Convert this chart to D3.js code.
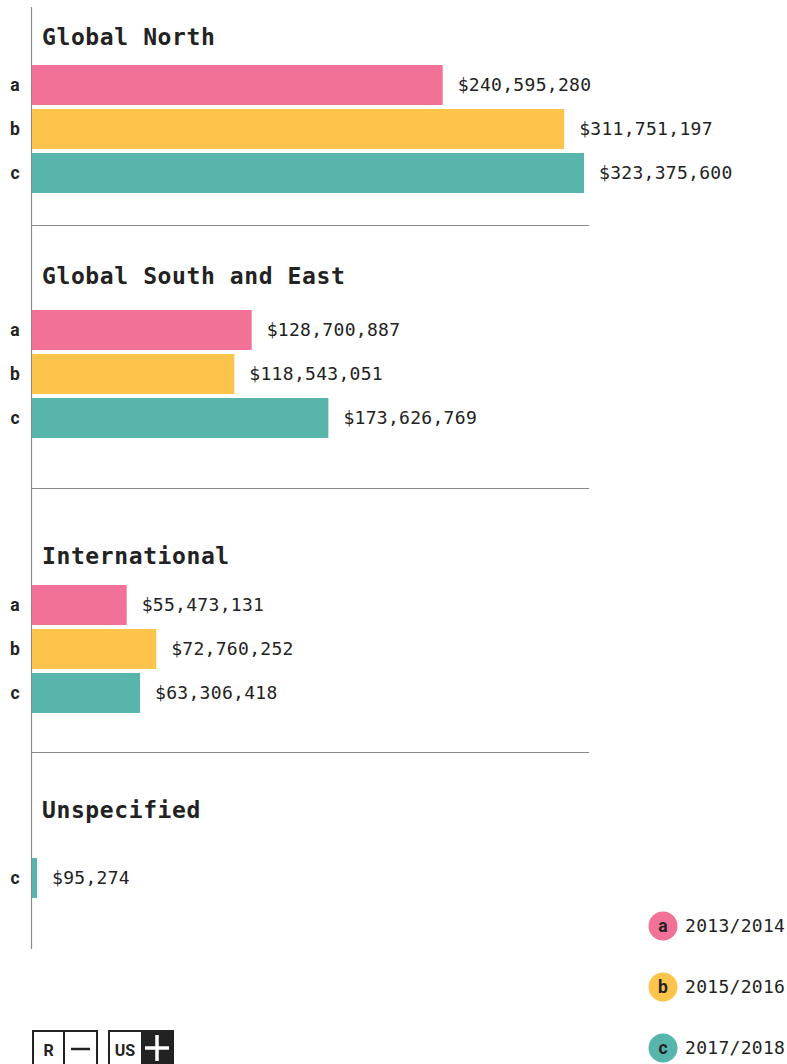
<!DOCTYPE html>
<html lang="en">
<head>
  <meta charset="UTF-8">
  <title>Funding by region</title>
  <script src="https://d3js.org/d3.v7.min.js"></script>
  <style>
    body { margin: 0; background: #fff; }
    svg { display: block; }
    .title { font-family: "DejaVu Sans Mono", monospace; font-weight: bold; font-size: 23px; fill: #222; letter-spacing: 0.6px; }
    .value, .legend-text { font-family: "DejaVu Sans Mono", monospace; font-size: 18px; fill: #222; letter-spacing: 0.3px; }
    .row-label { font-family: Roboto, "Noto Sans", sans-serif; font-weight: bold; font-size: 17.5px; fill: #222; }
  </style>
</head>
<body>
<svg width="787" height="1064"></svg>
<script>
  // données
  const regions = ["Global North", "Global South and East", "International", "Unspecified"];
  const periods = ["2013/2014", "2015/2016", "2017/2018"];
  const keys = ["a", "b", "c"];
  const valuesA = [240595280, 128700887, 55473131, null];
  const valuesB = [311751197, 118543051, 72760252, null];
  const valuesC = [323375600, 173626769, 63306418, 95274];
  const colors = ["#f27196", "#fdc44c", "#57b5ab"];

  // mise en page (pas des données)
  const titleY = [45, 284, 564, 818];
  const rowsY = [65, 310, 585, 770];
  const ruleY = [225, 488, 752];
  const x0 = 32;

  const svg = d3.select("svg");
  const series = [valuesA, valuesB, valuesC];

  const x = d3.scaleLinear()
      .domain([0, d3.max(series.flat())])
      .range([0, 552]);

  const y = d3.scaleBand()
      .domain(keys)
      .range([0, 128])
      .paddingInner(4 / 44);

  const color = d3.scaleOrdinal().domain(keys).range(colors);
  const fmt = d3.format("$,");

  // axe vertical
  svg.append("line")
      .attr("x1", x0 - 0.5).attr("x2", x0 - 0.5)
      .attr("y1", 7).attr("y2", 949)
      .attr("stroke", "#8a8a8a").attr("stroke-width", 1.2);

  // séparateurs
  svg.selectAll(".rule")
    .data(ruleY)
    .join("line")
      .attr("class", "rule")
      .attr("x1", x0).attr("x2", 589)
      .attr("y1", d => d + 0.5).attr("y2", d => d + 0.5)
      .attr("stroke", "#8a8a8a").attr("stroke-width", 1.2);

  regions.forEach((region, i) => {
    const g = svg.append("g").attr("transform", `translate(0,${rowsY[i]})`);

    svg.append("text")
      .attr("class", "title")
      .attr("x", 42)
      .attr("y", titleY[i])
      .text(region);

    const rows = keys.map((k, j) => ({key: k, value: series[j][i]}))
      .filter(d => d.value != null);

    g.selectAll("rect")
      .data(rows)
      .join("rect")
        .attr("x", x0)
        .attr("y", d => y(d.key))
        .attr("width", d => Math.max(x(d.value), 5))
        .attr("height", y.bandwidth())
        .attr("fill", d => color(d.key));

    g.selectAll(".row-label")
      .data(rows)
      .join("text")
        .attr("class", "row-label")
        .attr("x", 15)
        .attr("y", d => y(d.key) + y.bandwidth() / 2)
        .attr("dy", "0.36em")
        .attr("text-anchor", "middle")
        .text(d => d.key);

    g.selectAll(".value")
      .data(rows)
      .join("text")
        .attr("class", "value")
        .attr("x", d => x0 + Math.max(x(d.value), 5) + 15)
        .attr("y", d => y(d.key) + y.bandwidth() / 2)
        .attr("dy", "0.36em")
        .text(d => fmt(d.value));
  });

  // légende
  const legend = svg.append("g").attr("transform", "translate(663,926)");
  keys.forEach((k, i) => {
    const row = legend.append("g").attr("transform", `translate(0,${i * 61})`);
    row.append("circle").attr("r", 14.5).attr("fill", color(k));
    row.append("text")
      .attr("class", "row-label")
      .attr("text-anchor", "middle")
      .attr("dy", "0.36em")
      .text(k);
    row.append("text")
      .attr("class", "legend-text")
      .attr("x", 22)
      .attr("dy", "0.36em")
      .text(periods[i]);
  });

  // logo
  const logo = svg.append("g").attr("transform", "translate(33,1031)");
  logo.append("rect").attr("width", 64).attr("height", 34)
      .attr("fill", "#fff").attr("stroke", "#222").attr("stroke-width", 2);
  logo.append("line").attr("x1", 31).attr("x2", 31).attr("y1", 0).attr("y2", 34)
      .attr("stroke", "#222").attr("stroke-width", 2);
  logo.append("text").attr("x", 15.5).attr("y", 25).attr("text-anchor", "middle")
      .attr("font-family", "Roboto, sans-serif").attr("font-weight", "bold").attr("font-size", 16)
      .attr("fill", "#222").text("R");
  logo.append("line").attr("x1", 38).attr("x2", 57).attr("y1", 18).attr("y2", 18)
      .attr("stroke", "#222").attr("stroke-width", 2.5);

  const logo2 = svg.append("g").attr("transform", "translate(109,1031)");
  logo2.append("rect").attr("width", 64).attr("height", 34)
      .attr("fill", "#fff").attr("stroke", "#222").attr("stroke-width", 2);
  logo2.append("rect").attr("x", 32).attr("width", 32).attr("height", 34).attr("fill", "#222");
  logo2.append("text").attr("x", 16).attr("y", 25).attr("text-anchor", "middle")
      .attr("font-family", "Roboto, sans-serif").attr("font-weight", "bold").attr("font-size", 16)
      .attr("fill", "#222").text("US");
  logo2.append("line").attr("x1", 48).attr("x2", 48).attr("y1", 4).attr("y2", 30)
      .attr("stroke", "#fff").attr("stroke-width", 3.5);
  logo2.append("line").attr("x1", 36).attr("x2", 60).attr("y1", 17).attr("y2", 17)
      .attr("stroke", "#fff").attr("stroke-width", 3.5);
</script>
</body>
</html>
